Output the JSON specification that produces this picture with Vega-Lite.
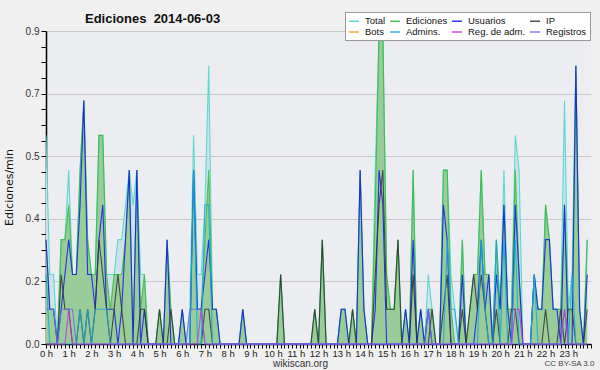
{
 "$schema": "https://vega.github.io/schema/vega-lite/v6.json",
 "width": 545,
 "height": 313,
 "autosize": {"type": "none"},
 "padding": {"left": 46, "top": 31, "right": 9, "bottom": 26},
 "background": "#f0f0f0",
 "title": {"text": "Ediciones\u00a0 2014-06-03", "anchor": "start", "frame": "group", "dx": 39, "dy": 14, "offset": -10, "fontSize": 13, "fontWeight": "bold", "font": "Liberation Sans", "color": "#111", "baseline": "alphabetic"},
 "config": {"view": {"fill": "#ecedf0", "stroke": null}},
 "data": {"values": [
{"t":0,"T":0.6,"E":0.3,"U":0.3,"P":0,"A":0.2,"R":0,"G":0.1},
{"t":10,"T":0.2,"E":0.1,"U":0.1,"P":0,"A":0,"R":0,"G":0.1},
{"t":20,"T":0.2,"E":0.1,"U":0.1,"P":0,"A":0,"R":0,"G":0.1},
{"t":30,"T":0,"E":0,"U":0,"P":0,"A":0,"R":0,"G":0},
{"t":40,"T":0.3,"E":0.3,"U":0.1,"P":0.2,"A":0,"R":0,"G":0.1},
{"t":50,"T":0.3,"E":0.3,"U":0.2,"P":0.1,"A":0,"R":0,"G":0.1},
{"t":60,"T":0.5,"E":0.4,"U":0.3,"P":0.1,"A":0,"R":0.1,"G":0.1},
{"t":70,"T":0.2,"E":0.2,"U":0.2,"P":0,"A":0,"R":0,"G":0.1},
{"t":80,"T":0.2,"E":0.2,"U":0.2,"P":0,"A":0,"R":0,"G":0},
{"t":90,"T":0.5,"E":0.5,"U":0.4,"P":0.1,"A":0.1,"R":0,"G":0},
{"t":100,"T":0.7,"E":0.7,"U":0.7,"P":0,"A":0,"R":0,"G":0},
{"t":110,"T":0.3,"E":0.3,"U":0.2,"P":0.1,"A":0.1,"R":0,"G":0},
{"t":120,"T":0.2,"E":0.2,"U":0.2,"P":0,"A":0,"R":0,"G":0},
{"t":130,"T":0.2,"E":0.2,"U":0.1,"P":0.1,"A":0.1,"R":0,"G":0},
{"t":140,"T":0.6,"E":0.6,"U":0.3,"P":0.3,"A":0.1,"R":0,"G":0},
{"t":150,"T":0.6,"E":0.6,"U":0.4,"P":0.2,"A":0.1,"R":0,"G":0},
{"t":160,"T":0.2,"E":0.2,"U":0.1,"P":0.1,"A":0.1,"R":0,"G":0},
{"t":170,"T":0.2,"E":0.1,"U":0.1,"P":0,"A":0,"R":0,"G":0},
{"t":180,"T":0.2,"E":0.2,"U":0.1,"P":0.1,"A":0,"R":0,"G":0},
{"t":190,"T":0.3,"E":0.2,"U":0,"P":0.2,"A":0,"R":0,"G":0},
{"t":200,"T":0.3,"E":0.2,"U":0.1,"P":0.1,"A":0,"R":0,"G":0},
{"t":210,"T":0.4,"E":0.3,"U":0.3,"P":0,"A":0,"R":0,"G":0},
{"t":220,"T":0.5,"E":0.5,"U":0.5,"P":0,"A":0,"R":0,"G":0},
{"t":230,"T":0.4,"E":0,"U":0,"P":0,"A":0,"R":0,"G":0},
{"t":240,"T":0.5,"E":0.5,"U":0.5,"P":0,"A":0,"R":0,"G":0},
{"t":250,"T":0.2,"E":0.1,"U":0,"P":0.1,"A":0,"R":0,"G":0},
{"t":260,"T":0.2,"E":0.2,"U":0.1,"P":0.1,"A":0,"R":0,"G":0},
{"t":270,"T":0,"E":0,"U":0,"P":0,"A":0,"R":0,"G":0},
{"t":280,"T":0,"E":0,"U":0,"P":0,"A":0,"R":0,"G":0},
{"t":290,"T":0,"E":0,"U":0,"P":0,"A":0,"R":0,"G":0},
{"t":300,"T":0.1,"E":0.1,"U":0,"P":0.1,"A":0,"R":0,"G":0},
{"t":310,"T":0,"E":0,"U":0,"P":0,"A":0,"R":0,"G":0},
{"t":320,"T":0.3,"E":0.3,"U":0.3,"P":0,"A":0,"R":0,"G":0},
{"t":330,"T":0.1,"E":0.1,"U":0,"P":0.1,"A":0,"R":0,"G":0},
{"t":340,"T":0,"E":0,"U":0,"P":0,"A":0,"R":0,"G":0},
{"t":350,"T":0,"E":0,"U":0,"P":0,"A":0,"R":0,"G":0},
{"t":360,"T":0.1,"E":0.1,"U":0.1,"P":0,"A":0,"R":0,"G":0},
{"t":370,"T":0,"E":0,"U":0,"P":0,"A":0,"R":0,"G":0},
{"t":380,"T":0.1,"E":0,"U":0,"P":0,"A":0,"R":0,"G":0.1},
{"t":390,"T":0.6,"E":0.5,"U":0.5,"P":0,"A":0.5,"R":0,"G":0.1},
{"t":400,"T":0.2,"E":0.1,"U":0.1,"P":0,"A":0,"R":0,"G":0.1},
{"t":410,"T":0.2,"E":0.1,"U":0.1,"P":0,"A":0,"R":0.1,"G":0.1},
{"t":420,"T":0.4,"E":0.3,"U":0.2,"P":0.1,"A":0.4,"R":0,"G":0},
{"t":430,"T":0.8,"E":0.5,"U":0.3,"P":0.1,"A":0.4,"R":0,"G":0},
{"t":440,"T":0.1,"E":0.1,"U":0.1,"P":0,"A":0,"R":0,"G":0},
{"t":450,"T":0.1,"E":0.1,"U":0.1,"P":0,"A":0,"R":0,"G":0},
{"t":460,"T":0,"E":0,"U":0,"P":0,"A":0,"R":0,"G":0},
{"t":470,"T":0,"E":0,"U":0,"P":0,"A":0,"R":0,"G":0},
{"t":480,"T":0,"E":0,"U":0,"P":0,"A":0,"R":0,"G":0},
{"t":490,"T":0,"E":0,"U":0,"P":0,"A":0,"R":0,"G":0},
{"t":500,"T":0,"E":0,"U":0,"P":0,"A":0,"R":0,"G":0},
{"t":510,"T":0,"E":0,"U":0,"P":0,"A":0,"R":0,"G":0},
{"t":520,"T":0.1,"E":0.1,"U":0.1,"P":0,"A":0,"R":0,"G":0},
{"t":530,"T":0,"E":0,"U":0,"P":0,"A":0,"R":0,"G":0},
{"t":540,"T":0,"E":0,"U":0,"P":0,"A":0,"R":0,"G":0},
{"t":550,"T":0,"E":0,"U":0,"P":0,"A":0,"R":0,"G":0},
{"t":560,"T":0,"E":0,"U":0,"P":0,"A":0,"R":0,"G":0},
{"t":570,"T":0,"E":0,"U":0,"P":0,"A":0,"R":0,"G":0},
{"t":580,"T":0,"E":0,"U":0,"P":0,"A":0,"R":0,"G":0},
{"t":590,"T":0,"E":0,"U":0,"P":0,"A":0,"R":0,"G":0},
{"t":600,"T":0,"E":0,"U":0,"P":0,"A":0,"R":0,"G":0},
{"t":610,"T":0,"E":0,"U":0,"P":0,"A":0,"R":0,"G":0},
{"t":620,"T":0.2,"E":0.2,"U":0,"P":0.2,"A":0,"R":0,"G":0},
{"t":630,"T":0,"E":0,"U":0,"P":0,"A":0,"R":0,"G":0},
{"t":640,"T":0,"E":0,"U":0,"P":0,"A":0,"R":0,"G":0},
{"t":650,"T":0,"E":0,"U":0,"P":0,"A":0,"R":0,"G":0},
{"t":660,"T":0,"E":0,"U":0,"P":0,"A":0,"R":0,"G":0},
{"t":670,"T":0,"E":0,"U":0,"P":0,"A":0,"R":0,"G":0},
{"t":680,"T":0,"E":0,"U":0,"P":0,"A":0,"R":0,"G":0},
{"t":690,"T":0,"E":0,"U":0,"P":0,"A":0,"R":0,"G":0},
{"t":700,"T":0,"E":0,"U":0,"P":0,"A":0,"R":0,"G":0},
{"t":710,"T":0.1,"E":0.1,"U":0,"P":0.1,"A":0,"R":0,"G":0},
{"t":720,"T":0,"E":0,"U":0,"P":0,"A":0,"R":0,"G":0},
{"t":730,"T":0.3,"E":0.3,"U":0,"P":0.3,"A":0,"R":0,"G":0},
{"t":740,"T":0,"E":0,"U":0,"P":0,"A":0,"R":0,"G":0},
{"t":750,"T":0,"E":0,"U":0,"P":0,"A":0,"R":0,"G":0},
{"t":760,"T":0,"E":0,"U":0,"P":0,"A":0,"R":0,"G":0},
{"t":770,"T":0,"E":0,"U":0,"P":0,"A":0,"R":0,"G":0},
{"t":780,"T":0.1,"E":0.1,"U":0.1,"P":0,"A":0,"R":0,"G":0},
{"t":790,"T":0.1,"E":0.1,"U":0.1,"P":0,"A":0,"R":0,"G":0},
{"t":800,"T":0,"E":0,"U":0,"P":0,"A":0,"R":0,"G":0},
{"t":810,"T":0.1,"E":0.1,"U":0,"P":0.1,"A":0,"R":0,"G":0},
{"t":820,"T":0,"E":0,"U":0,"P":0,"A":0,"R":0,"G":0},
{"t":830,"T":0.5,"E":0.5,"U":0.5,"P":0,"A":0,"R":0,"G":0},
{"t":840,"T":0.1,"E":0.1,"U":0.1,"P":0,"A":0,"R":0,"G":0},
{"t":850,"T":0,"E":0,"U":0,"P":0,"A":0,"R":0,"G":0},
{"t":860,"T":0,"E":0,"U":0,"P":0,"A":0,"R":0,"G":0},
{"t":870,"T":0.5,"E":0.4,"U":0.1,"P":0.2,"A":0,"R":0,"G":0},
{"t":880,"T":0.9,"E":0.9,"U":0.5,"P":0.4,"A":0,"R":0,"G":0},
{"t":890,"T":0.9,"E":0.9,"U":0.4,"P":0.5,"A":0,"R":0,"G":0},
{"t":900,"T":0.2,"E":0.2,"U":0,"P":0.1,"A":0,"R":0,"G":0},
{"t":910,"T":0.1,"E":0.1,"U":0,"P":0.1,"A":0,"R":0,"G":0},
{"t":920,"T":0.1,"E":0.1,"U":0,"P":0.1,"A":0,"R":0,"G":0},
{"t":930,"T":0.3,"E":0.3,"U":0,"P":0.3,"A":0,"R":0,"G":0},
{"t":940,"T":0,"E":0,"U":0,"P":0,"A":0,"R":0,"G":0},
{"t":950,"T":0.1,"E":0.1,"U":0.1,"P":0,"A":0,"R":0,"G":0},
{"t":960,"T":0,"E":0,"U":0,"P":0,"A":0,"R":0,"G":0},
{"t":970,"T":0.5,"E":0.5,"U":0.3,"P":0.2,"A":0,"R":0,"G":0},
{"t":980,"T":0,"E":0,"U":0,"P":0,"A":0,"R":0,"G":0},
{"t":990,"T":0.1,"E":0.1,"U":0.1,"P":0,"A":0,"R":0,"G":0},
{"t":1000,"T":0,"E":0,"U":0,"P":0,"A":0,"R":0,"G":0},
{"t":1010,"T":0.2,"E":0.1,"U":0.1,"P":0,"A":0,"R":0,"G":0.1},
{"t":1020,"T":0.1,"E":0.1,"U":0,"P":0.1,"A":0,"R":0,"G":0},
{"t":1030,"T":0,"E":0,"U":0,"P":0,"A":0,"R":0,"G":0},
{"t":1040,"T":0,"E":0,"U":0,"P":0,"A":0,"R":0,"G":0},
{"t":1050,"T":0.5,"E":0.5,"U":0.4,"P":0.1,"A":0,"R":0,"G":0},
{"t":1060,"T":0.5,"E":0.5,"U":0.3,"P":0.2,"A":0.3,"R":0,"G":0},
{"t":1070,"T":0.2,"E":0.1,"U":0,"P":0,"A":0.1,"R":0,"G":0},
{"t":1080,"T":0.1,"E":0,"U":0,"P":0,"A":0.1,"R":0,"G":0},
{"t":1090,"T":0,"E":0,"U":0,"P":0,"A":0,"R":0,"G":0},
{"t":1100,"T":0.3,"E":0.3,"U":0.2,"P":0.1,"A":0,"R":0,"G":0},
{"t":1110,"T":0,"E":0,"U":0,"P":0,"A":0,"R":0,"G":0},
{"t":1120,"T":0.1,"E":0.1,"U":0,"P":0.1,"A":0,"R":0,"G":0},
{"t":1130,"T":0.2,"E":0.2,"U":0,"P":0.2,"A":0,"R":0,"G":0},
{"t":1140,"T":0.2,"E":0.2,"U":0.1,"P":0.1,"A":0,"R":0,"G":0},
{"t":1150,"T":0.5,"E":0.5,"U":0.3,"P":0.2,"A":0.3,"R":0,"G":0},
{"t":1160,"T":0.2,"E":0.2,"U":0.1,"P":0.1,"A":0.1,"R":0,"G":0},
{"t":1170,"T":0.2,"E":0.2,"U":0.2,"P":0,"A":0,"R":0,"G":0},
{"t":1180,"T":0,"E":0,"U":0,"P":0,"A":0,"R":0,"G":0},
{"t":1190,"T":0.3,"E":0.3,"U":0.2,"P":0.1,"A":0.3,"R":0,"G":0},
{"t":1200,"T":0.1,"E":0.1,"U":0.1,"P":0,"A":0,"R":0,"G":0},
{"t":1210,"T":0.5,"E":0.4,"U":0.4,"P":0,"A":0.3,"R":0,"G":0},
{"t":1220,"T":0.1,"E":0.1,"U":0.1,"P":0,"A":0,"R":0,"G":0},
{"t":1230,"T":0.1,"E":0.1,"U":0,"P":0.1,"A":0,"R":0,"G":0},
{"t":1240,"T":0.6,"E":0.5,"U":0.4,"P":0.1,"A":0.3,"R":0.1,"G":0},
{"t":1250,"T":0.5,"E":0.2,"U":0.2,"P":0,"A":0,"R":0.1,"G":0},
{"t":1260,"T":0,"E":0,"U":0,"P":0,"A":0,"R":0,"G":0},
{"t":1270,"T":0,"E":0,"U":0,"P":0,"A":0,"R":0,"G":0},
{"t":1280,"T":0,"E":0,"U":0,"P":0,"A":0,"R":0,"G":0},
{"t":1290,"T":0.2,"E":0.2,"U":0.2,"P":0,"A":0.2,"R":0,"G":0},
{"t":1300,"T":0.1,"E":0.1,"U":0.1,"P":0,"A":0,"R":0,"G":0},
{"t":1310,"T":0.1,"E":0.1,"U":0.1,"P":0,"A":0,"R":0,"G":0},
{"t":1320,"T":0.4,"E":0.4,"U":0.3,"P":0.1,"A":0,"R":0,"G":0},
{"t":1330,"T":0.3,"E":0.3,"U":0.3,"P":0,"A":0,"R":0,"G":0},
{"t":1340,"T":0.1,"E":0.1,"U":0.1,"P":0,"A":0,"R":0,"G":0},
{"t":1350,"T":0.1,"E":0.1,"U":0.1,"P":0,"A":0,"R":0,"G":0},
{"t":1360,"T":0.1,"E":0.1,"U":0,"P":0.1,"A":0,"R":0,"G":0},
{"t":1370,"T":0.7,"E":0.4,"U":0.4,"P":0,"A":0.1,"R":0.1,"G":0},
{"t":1380,"T":0.1,"E":0.1,"U":0,"P":0.1,"A":0,"R":0,"G":0},
{"t":1390,"T":0.2,"E":0.1,"U":0,"P":0.1,"A":0.2,"R":0,"G":0},
{"t":1400,"T":0.8,"E":0.8,"U":0.8,"P":0,"A":0,"R":0,"G":0},
{"t":1410,"T":0.1,"E":0.1,"U":0.1,"P":0,"A":0,"R":0,"G":0},
{"t":1420,"T":0,"E":0,"U":0,"P":0,"A":0,"R":0,"G":0},
{"t":1430,"T":0.3,"E":0.3,"U":0.2,"P":0.1,"A":0,"R":0,"G":0}
 ]},
 "encoding": {
  "x": {"field": "t", "type": "quantitative",
   "scale": {"domain": [0, 1440], "nice": false, "zero": false},
   "axis": {
    "values": [0,10,20,30,40,50,60,70,80,90,100,110,120,130,140,150,160,170,180,190,200,210,220,230,240,250,260,270,280,290,300,310,320,330,340,350,360,370,380,390,400,410,420,430,440,450,460,470,480,490,500,510,520,530,540,550,560,570,580,590,600,610,620,630,640,650,660,670,680,690,700,710,720,730,740,750,760,770,780,790,800,810,820,830,840,850,860,870,880,890,900,910,920,930,940,950,960,970,980,990,1000,1010,1020,1030,1040,1050,1060,1070,1080,1090,1100,1110,1120,1130,1140,1150,1160,1170,1180,1190,1200,1210,1220,1230,1240,1250,1260,1270,1280,1290,1300,1310,1320,1330,1340,1350,1360,1370,1380,1390,1400,1410,1420,1430,1440],
    "labelExpr": "datum.value % 60 == 0 && datum.value < 1440 ? (datum.value / 60) + ' h' : ''",
    "labelOverlap": false, "labelFlush": false, "labelBound": false,
    "labelFont": "Liberation Sans", "labelFontSize": 9.5, "labelColor": "#222", "labelPadding": 0,
    "tickSize": 4, "tickColor": "#000", "tickWidth": 1,
    "domainColor": "#000", "domainWidth": 1.5, "grid": false,
    "title": "wikiscan.org", "titleFont": "Liberation Sans", "titleFontSize": 10, "titleFontWeight": "normal", "titleColor": "#333",
    "titleX": 254, "titleY": 22, "titleAlign": "center", "titleBaseline": "alphabetic"
   }
  }
 },
 "layer": [
  {
   "mark": {"type": "area", "color": "#cde2ea", "opacity": 1},
   "encoding": {
    "y": {"field": "T", "type": "quantitative", "scale": {"domain": [0, 0.9], "nice": false},
     "axis": {"orient": "right", "labels": false, "ticks": false, "domain": false, "grid": false,
      "title": "CC BY-SA 3.0", "titleAngle": 0, "titleX": -22, "titleY": 334, "titleAlign": "center", "titleBaseline": "alphabetic",
      "titleFont": "Liberation Sans", "titleFontSize": 8, "titleFontWeight": "normal", "titleColor": "#444"}}
   }
  },
  {
   "mark": {"type": "area", "color": "#99cc99", "opacity": 1},
   "encoding": {
    "y": {"field": "E", "type": "quantitative", "scale": {"domain": [0, 0.9], "nice": false},
     "axis": {
      "values": [0,0.045,0.09,0.135,0.18,0.225,0.27,0.315,0.36,0.405,0.45,0.495,0.54,0.585,0.63,0.675,0.72,0.765,0.81,0.855,0.9],
      "labelExpr": "round(datum.value * 1000) % 180 == 0 ? format(datum.value, '.1f') : ''",
      "labelOverlap": false, "labelFont": "Liberation Sans", "labelFontSize": 10, "labelColor": "#333", "labelPadding": 2,
      "grid": true, "gridColor": "#c8c8c8", "gridWidth": 1,
      "gridOpacity": {"condition": {"test": "round(datum.value * 1000) % 180 == 0 && datum.value > 0", "value": 1}, "value": 0},
      "tickSize": 5, "tickColor": "#000", "domainColor": "#000", "domainWidth": 1.5,
      "title": "Ediciones/min", "titleFont": "DejaVu Sans", "titleFontSize": 11, "titleFontWeight": "normal", "titleColor": "#111",
      "titleX": -37, "titleY": 156, "titleAngle": 270, "titleAlign": "center", "titleBaseline": "middle"
     }}
   }
  },
  {
   "transform": [{"fold": ["T", "E", "U", "P", "A", "R", "G"], "as": ["s", "v"]}],
   "mark": {"type": "line", "strokeWidth": 1.1, "opacity": 0.85},
   "encoding": {
    "y": {"field": "v", "type": "quantitative", "scale": {"domain": [0, 0.9], "nice": false}, "axis": null},
    "color": {"field": "s", "type": "nominal",
     "scale": {"domain": ["T", "E", "U", "P", "B", "A", "R", "G"],
      "range": ["#45d6ca", "#3cb83c", "#1515f0", "#333333", "#ff9922", "#1aa8dc", "#c833e0", "#6a6aee"]},
     "legend": {"orient": "none", "legendX": 299, "legendY": -19, "columns": 4, "direction": "horizontal", "title": null,
      "symbolType": "stroke", "symbolSize": 100, "symbolStrokeWidth": 1.5,
      "labelFont": "Liberation Sans", "labelFontSize": 9.5, "labelColor": "#111", "labelOffset": 5,
      "fillColor": "#ffffff", "strokeColor": "#999999", "padding": 3, "rowPadding": 0, "columnPadding": 1,
      "labelExpr": "datum.label == 'T' ? 'Total' : datum.label == 'E' ? 'Ediciones' : datum.label == 'U' ? 'Usuarios' : datum.label == 'P' ? 'IP' : datum.label == 'B' ? 'Bots' : datum.label == 'A' ? 'Admins.' : datum.label == 'R' ? 'Reg. de adm.' : 'Registros'"}
    }
   }
  }
 ],
 "resolve": {"axis": {"y": "independent"}}
}
